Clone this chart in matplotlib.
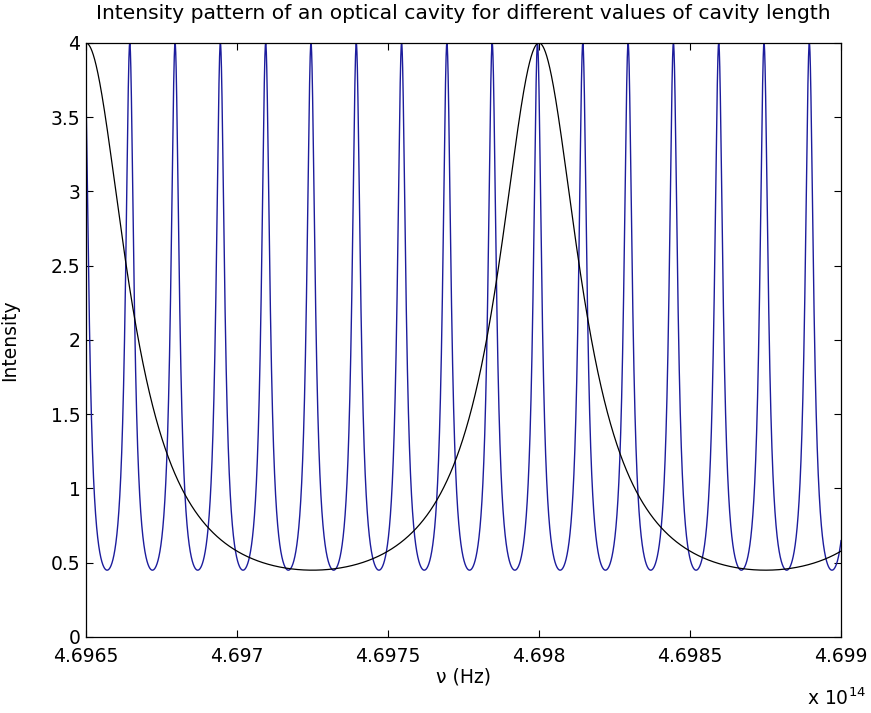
import numpy as np
import matplotlib
matplotlib.use("Agg")
import matplotlib.pyplot as plt

# frequency axis, in units of 1e14 Hz
NU_FROM = 4.6965
NU_TO = 4.699
xticks = [4.6965, 4.697, 4.6975, 4.698, 4.6985, 4.699]
xtick_labels = ["4.6965", "4.697", "4.6975", "4.698", "4.6985", "4.699"]
yticks = [0, 0.5, 1, 1.5, 2, 2.5, 3, 3.5, 4]
ytick_labels = ["0", "0.5", "1", "1.5", "2", "2.5", "3", "3.5", "4"]

I_MAX = 4.0
I_MIN = 0.45
BLACK_PEAK = 4.698      # x 1e14 Hz
BLACK_FSR = 0.0015      # x 1e14 Hz
BLUE_PEAK = 4.697995
BLUE_FSR = 0.00015

F = I_MAX / I_MIN - 1


def airy(nu, peak, fsr):
    return I_MAX / (1 + F * np.sin(np.pi * (nu - peak) / fsr) ** 2)


nu = np.linspace(NU_FROM, NU_TO, 20000)
blue = airy(nu, BLUE_PEAK, BLUE_FSR)
black = airy(nu, BLACK_PEAK, BLACK_FSR)

FS = 13.5
plt.rcParams['font.family'] = ['DejaVu Sans']
fig = plt.figure(figsize=(8.71, 7.13), dpi=100)
ax = fig.add_axes([0.0987, 0.1066, 0.8669, 0.8331])

ax.plot(nu, blue, color='#1c1c9c', lw=1.0)
ax.plot(nu, black, color='black', lw=0.9)

ax.set_xlim(NU_FROM, NU_TO)
ax.set_ylim(0, 4)
ax.set_xticks(xticks)
ax.set_xticklabels(xtick_labels)
ax.set_yticks(yticks)
ax.set_yticklabels(ytick_labels)
ax.tick_params(direction='in', top=True, right=True, labelsize=FS, length=5)
ax.tick_params(axis='x', pad=7)
ax.tick_params(axis='y', pad=4)
for s in ax.spines.values():
    s.set_linewidth(0.9)

ax.set_title('Intensity pattern of an optical cavity for different values of cavity length',
             fontsize=14.6, pad=17)
ax.set_xlabel('ν (Hz)', fontsize=FS, labelpad=1)
ax.set_ylabel('Intensity', fontsize=FS)
ax.yaxis.set_label_coords(-0.088, 0.5)
ax.text(0.955, -0.085, r'x 10$^{14}$', transform=ax.transAxes, ha='left', va='top',
        fontsize=FS, math_fontfamily='dejavusans')

fig.savefig('out.png', dpi=100)
